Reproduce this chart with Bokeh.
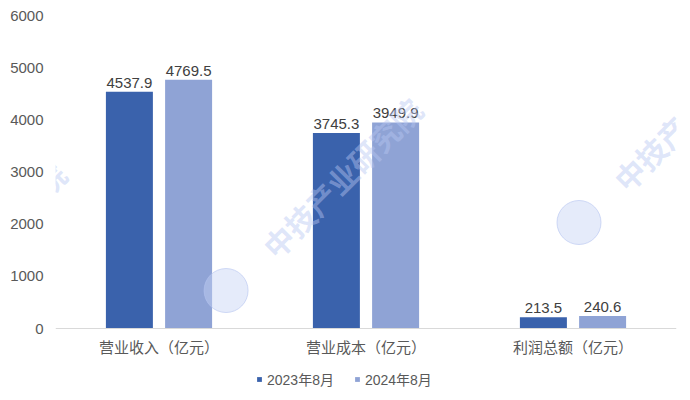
from bokeh.plotting import figure
from bokeh.models import FactorRange, Range1d, Label, FixedTicker, ColumnDataSource, Span, Legend, LegendItem
from bokeh.transform import dodge
from bokeh.core.properties import value
from bokeh.embed import file_html
from bokeh.resources import INLINE

# ---- data ----
categories = ["营业收入（亿元）", "营业成本（亿元）", "利润总额（亿元）"]
series_names = ["2023年8月", "2024年8月"]
values_2023 = [4537.9, 3745.3, 213.5]
values_2024 = [4769.5, 3949.9, 240.6]
y_ticks = [0, 1000, 2000, 3000, 4000, 5000, 6000]

# ---- style / layout ----
FONT = "Liberation Sans, Noto Sans CJK SC, sans-serif"
WM_FONT = "Noto Sans CJK SC, sans-serif"
C_2023 = "#3A62AC"
C_2024 = "#8FA3D5"
TXT = "#595959"
LBL = "#404040"
W, H = 682, 392
FRAME_L, FRAME_T, FRAME_R = 55, 15, 6
ZERO_PX = 328            # pixel row of the value axis baseline
Y_MAX = 6000
# the plotting frame reaches the bottom of the canvas so that the
# category labels and legend under the baseline are not clipped
Y_MIN = -(H - ZERO_PX) / (ZERO_PX - FRAME_T) * Y_MAX

WM_TEXT = "中技产业研究院"
# decorative watermark placements (x in category units, y in value units)
wm_text_pos = [(1.384, 2895), (3.08, 4179), (-0.336, 1648)]
wm_logo_pos = [(0.824, 728), (2.529, 2032)]

src = ColumnDataSource(dict(
    cat=categories,
    v23=values_2023,
    v24=values_2024,
    l23=[f"{v:.1f}" for v in values_2023],
    l24=[f"{v:.1f}" for v in values_2024],
))

p = figure(width=W, height=H,
           x_range=FactorRange(factors=categories, range_padding=0),
           y_range=Range1d(Y_MIN, Y_MAX),
           x_axis_location=None,
           output_backend="svg", toolbar_location=None,
           min_border_left=FRAME_L, min_border_right=FRAME_R,
           min_border_top=FRAME_T, min_border_bottom=0)
p.outline_line_color = None
p.xgrid.visible = False
p.ygrid.visible = False
p.background_fill_color = "white"

off = 0.143
bw = 0.227
r1 = p.vbar(x=dodge("cat", -off, range=p.x_range), top="v23", width=bw,
            source=src, fill_color=C_2023, line_color=None)
r2 = p.vbar(x=dodge("cat", off, range=p.x_range), top="v24", width=bw,
            source=src, fill_color=C_2024, line_color=None)

for xo, col in [(-off, "l23"), (off, "l24")]:
    p.text(x=dodge("cat", xo, range=p.x_range), y=col.replace("l", "v"), text=col,
           source=src, text_align="center", text_baseline="alphabetic",
           y_offset=-9, text_font_size="15px", text_color=LBL,
           text_font=value(FONT))

# value axis
p.yaxis.ticker = FixedTicker(ticks=y_ticks)
p.yaxis.axis_line_color = None
p.yaxis.major_tick_line_color = None
p.yaxis.minor_tick_line_color = None
p.yaxis.major_tick_out = 0
p.yaxis.major_tick_in = 0
p.yaxis.major_label_standoff = 12
p.yaxis.major_label_text_font_size = "15px"
p.yaxis.major_label_text_color = TXT
p.yaxis.major_label_text_font = FONT

# category baseline and labels
p.add_layout(Span(location=0, dimension="width", line_color="#D9D9D9", line_width=1))
p.text(x="cat", y=0, text="cat", source=src, text_align="center",
       text_baseline="middle", y_offset=19, text_font_size="15px",
       text_color=TXT, text_font=value(FONT))

# watermark (decorative)
p.scatter(x=[a for a, b in wm_logo_pos], y=[b for a, b in wm_logo_pos], size=44,
          marker="circle", fill_color="#C6D2F4", fill_alpha=0.45,
          line_color="#B4C3F0", line_alpha=0.6)
for (wx, wy) in wm_text_pos:
    p.add_layout(Label(x=wx, y=wy, text=WM_TEXT, angle=45, angle_units="deg",
                       text_align="center", text_baseline="middle",
                       text_font_size="30px", text_font_style="bold",
                       text_color="#B8C6F2", text_alpha=0.45, text_font=WM_FONT))

legend = Legend(items=[LegendItem(label=series_names[0], renderers=[r1]),
                       LegendItem(label=series_names[1], renderers=[r2])],
                orientation="horizontal", location=(201, 3),
                padding=0, margin=0, border_line_color=None,
                background_fill_alpha=0, glyph_width=6, glyph_height=6,
                label_standoff=5, spacing=20,
                label_text_font_size="14px", label_text_color=TXT,
                label_text_font=FONT)
p.add_layout(legend, "center")

open("out.html", "w").write(file_html(p, INLINE))
